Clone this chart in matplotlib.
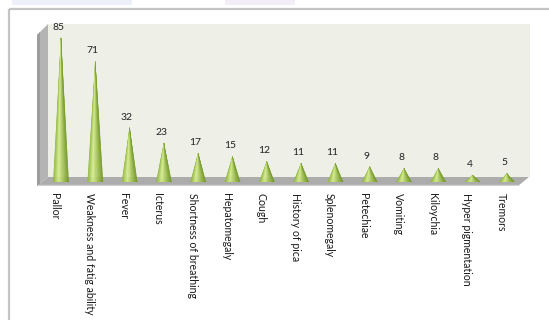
import matplotlib
matplotlib.use("Agg")
import matplotlib.pyplot as plt
import matplotlib.transforms as mtransforms
from matplotlib.patches import Polygon, Rectangle, Ellipse
import numpy as np

categories = ["Pallor", "Weakness and fatig ability", "Fever", "Icterus",
              "Shortness of breathing", "Hepatomegaly", "Cough", "History of pica",
              "Splenomegaly", "Petechiae", "Vomiting", "Kiloychia",
              "Hyper pigmentation", "Tremors"]
values = [85, 71, 32, 23, 17, 15, 12, 11, 11, 9, 8, 8, 4, 5]

plt.rcParams['font.family'] = ['Lato', 'DejaVu Sans']

W, H = 549, 320
fig = plt.figure(figsize=(W / 100, H / 100), dpi=100)
fig.patch.set_facecolor('white')

# background axes in pixel coordinates (decoration: frame, walls, floor)
bg = fig.add_axes([0, 0, 1, 1])
bg.set_xlim(0, W)
bg.set_ylim(H, 0)
bg.axis('off')

# faint watermark blobs at top
bg.add_patch(Rectangle((12, 0), 120, 5, color='#e6eaf6', lw=0, alpha=0.7))
bg.add_patch(Rectangle((225, 0), 70, 5, color='#eee6f4', lw=0, alpha=0.7))
# outer frame
bg.add_patch(Rectangle((8.5, 8.5), 600, 400, fill=False, edgecolor='#c4c4c4', lw=1.6))
# back wall
bg.add_patch(Rectangle((48, 24), 482, 153, facecolor='#eef0e7', edgecolor='none'))
# left wall
bg.add_patch(Polygon([(37, 35), (48, 24), (48, 177), (37, 186)], closed=True,
                     facecolor='#b4b4b4', edgecolor='none'))
bg.add_patch(Polygon([(37, 35), (40, 32), (40, 184), (37, 186)], closed=True,
                     facecolor='#9c9c9c', edgecolor='none'))
# floor
bg.add_patch(Polygon([(37, 186), (48, 177), (529, 177), (518, 186)], closed=True,
                     facecolor='#acacac', edgecolor='none'))
bg.add_patch(Polygon([(37, 186), (38.5, 184.8), (519.5, 184.8), (518, 186)], closed=True,
                     facecolor='#d0d0d0', edgecolor='none'))

# data axes
x_left = 61 - 17.15
x_w = 14 * 34.3
y_base = 182
ymax = 90
ppu = 144 / 85.0
y_top = y_base - ymax * ppu
ax = fig.add_axes([x_left / W, (H - y_base) / H, x_w / W, (y_base - y_top) / H])
ax.set_xlim(-0.5, 13.5)
ax.set_ylim(0, ymax)
ax.axis('off')
ax.patch.set_alpha(0)

hw = 0.225
nstrip = 24
def shade(t):
    # t in [0,1] across cone from left to right
    c_left = np.array([0x8c, 0xb4, 0x3a]) / 255
    c_hi = np.array([0xd8, 0xee, 0x92]) / 255
    c_right = np.array([0x72, 0x98, 0x26]) / 255
    if t < 0.35:
        f = t / 0.35
        return c_left * (1 - f) + c_hi * f
    f = (t - 0.35) / 0.65
    return c_hi * (1 - f) + c_right * f

ell_h = 4.0 / ppu
for i, v in enumerate(values):
    edges = np.linspace(i - hw, i + hw, nstrip + 1)
    ax.add_patch(Ellipse((i, 0), 2 * hw, ell_h, facecolor='#86ad34', edgecolor='none', zorder=2))
    for k in range(nstrip):
        t = (k + 0.5) / nstrip
        ax.add_patch(Polygon([(i, v), (edges[k], 0), (edges[k + 1], 0)], closed=True,
                             facecolor=shade(t), edgecolor=shade(t), lw=0.2, zorder=3))
    theta = np.linspace(np.pi, 2 * np.pi, 30)
    ex = i + hw * np.cos(theta)
    ey = (ell_h / 2) * np.sin(theta)
    pts = list(zip(ex, ey)) + [(i + hw, 0)]
    ax.add_patch(Polygon(pts, closed=True, facecolor='#8fb83c', edgecolor='none', zorder=3))
    ax.annotate(str(v), (i, v), xytext=(-2, 4.5), textcoords='offset points',
                ha='center', va='bottom', fontsize=7.5, color='#222222')

lab_tr = mtransforms.offset_copy(ax.transData, fig=fig, x=-6, y=-11, units='dots')
for i, c in enumerate(categories):
    ax.text(i, 0, c, transform=lab_tr, rotation=270, ha='center', va='top',
            fontsize=7.6, color='#1a1a1a')

fig.savefig('out.png', dpi=100)
